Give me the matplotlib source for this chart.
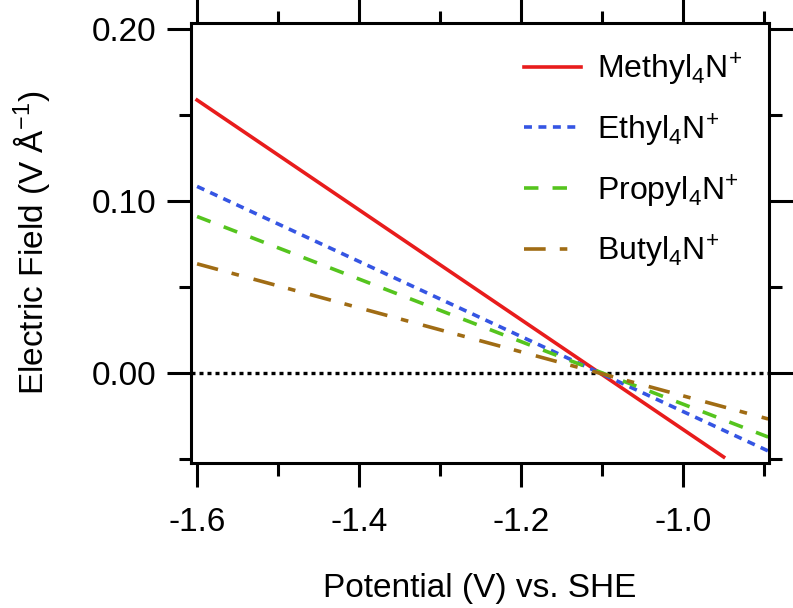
import matplotlib
matplotlib.use('Agg')
import matplotlib.pyplot as plt

plt.rcParams['font.family'] = ['Liberation Sans', 'DejaVu Sans']
plt.rcParams['axes.unicode_minus'] = False
plt.rcParams['mathtext.fontset'] = 'custom'
plt.rcParams['mathtext.rm'] = 'Liberation Sans'

# end points of each straight line (potential in V vs SHE, field in V/A)
names = ['Methyl', 'Ethyl', 'Propyl', 'Butyl']
x_start = [-1.6, -1.6, -1.6, -1.6]
x_end = [-0.95, -0.895, -0.895, -0.895]
y_start = [0.1587, 0.1085, 0.0910, 0.0635]
y_end = [-0.0488, -0.0453, -0.0372, -0.0267]

colors = ['#e81c1c', '#3555e3', '#55c41e', '#a06c14']
dashes = [None, (2.2, 1.8), (4.0, 3.9), (6.0, 3.9, 2.1, 4.2)]

fs = 24

fig = plt.figure(figsize=(7.93, 6.08), dpi=100)
ax = fig.add_axes([191 / 793, 1 - 463 / 608, 578 / 793, 440 / 608])

ax.axhline(0, color='black', lw=2.4, dashes=(1.2, 1.2), zorder=1)

for i in range(len(names)):
    label = names[i] + r'$_\mathregular{4}$N$^\mathregular{+}$'
    line, = ax.plot([x_start[i], x_end[i]], [y_start[i], y_end[i]],
                    color=colors[i], lw=2.6, label=label, zorder=2)
    if dashes[i] is not None:
        line.set_dashes(dashes[i])

ax.set_xlim(-1.6075, -0.894)
ax.set_ylim(-0.0523, 0.2035)

ax.set_xticks([-1.6, -1.4, -1.2, -1.0])
ax.set_xticks([-1.5, -1.3, -1.1, -0.9], minor=True)
ax.set_xticklabels(['-1.6', '-1.4', '-1.2', '-1.0'])
ax.set_yticks([0.0, 0.1, 0.2])
ax.set_yticks([-0.05, 0.05, 0.15], minor=True)
ax.set_yticklabels(['0.00', '0.10', '0.20'])

for s in ax.spines.values():
    s.set_linewidth(2.2)

ax.tick_params(which='both', direction='out', width=2.2, labelsize=fs,
               top=True, right=True)
ax.tick_params(which='major', length=17)
ax.tick_params(which='minor', length=9)
ax.tick_params(axis='x', which='major', pad=15)
ax.tick_params(axis='y', which='major', pad=8)

ax.set_xlabel('Potential (V) vs. SHE', fontsize=fs, labelpad=25)
ax.set_ylabel(r'Electric Field (V Å$^\mathregular{-1}$)', fontsize=fs, labelpad=28)

ax.legend(loc='upper right', frameon=False, fontsize=23, handlelength=1.8,
          handletextpad=0.5, labelspacing=0.74, borderaxespad=0.25,
          bbox_to_anchor=(0.99, 0.985))

fig.savefig('out.png', dpi=100)
